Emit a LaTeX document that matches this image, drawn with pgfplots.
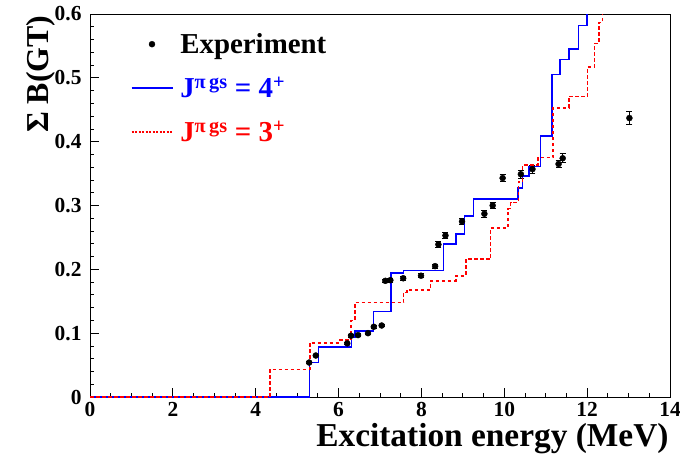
\documentclass[border=0pt]{standalone}
\usepackage{fontspec}
\setmainfont{Liberation Serif}
\usepackage{pgfplots}
\pgfplotsset{compat=1.18}
\begin{document}
\begin{tikzpicture}
\begin{axis}[
 scale only axis, width=580bp, height=383bp,
 xmin=0, xmax=14, ymin=0, ymax=0.6,
 xtick={0,2,4,6,8,10,12,14}, ytick={0,0.1,0.2,0.3,0.4,0.5,0.6},
 minor x tick num=3, minor y tick num=4,
 tick align=inside, xtick pos=bottom, ytick pos=left,
 major tick length=9bp, minor tick length=4.5bp,
 tick style={black, line width=0.8bp},
 axis line style={line width=1bp},
 ticklabel style={font=\fontsize{21.5}{24}\selectfont\bfseries},
 /pgf/number format/assume math mode=true,
 yticklabel style={/pgf/number format/fixed, xshift=-5bp},
 xticklabel style={yshift=-2bp},
 legend cell align=left,
 legend style={draw=none, fill=none, at={(axis description cs:0.07,0.955)}, anchor=north west,
   font=\fontsize{29}{31}\selectfont\bfseries, row sep=18bp, inner sep=0pt,
   /tikz/every even column/.style={column sep=0bp}},
]
\addplot[only marks, mark=*, mark size=3bp, black,
  legend image code/.code={\fill[black] (20.5bp,0bp) circle (3bp); \path (0bp,0bp) (41bp,0bp) (46bp,0bp);},
  error bars/.cd, y dir=both, y explicit, error bar style={line width=0.8bp},
  error mark options={rotate=90, mark size=3bp, line width=0.8bp}]
 table[x=x, y=y, y error=e] {
 x y e
 5.29 0.054 0.002
 5.45 0.065 0.002
 6.21 0.084 0.002
 6.30 0.096 0.002
 6.47 0.097 0.002
 6.71 0.100 0.002
 6.85 0.110 0.002
 7.04 0.112 0.002
 7.13 0.182 0.003
 7.25 0.183 0.003
 7.56 0.186 0.003
 7.99 0.190 0.003
 8.33 0.205 0.003
 8.41 0.239 0.005
 8.58 0.253 0.005
 8.98 0.275 0.005
 9.52 0.287 0.005
 9.72 0.300 0.005
 9.96 0.343 0.006
 10.40 0.349 0.006
 10.68 0.357 0.006
 11.31 0.365 0.006
 11.41 0.374 0.007
 13.02 0.437 0.010
 };
\addlegendentry{Experiment}
\addplot[const plot, color=blue, line width=1.6bp,
  legend image code/.code={\draw[blue, line width=1.4bp] (0bp,0bp) -- (41bp,0bp); \path (46bp,0bp);}]
 coordinates {
 (0,0) (5.30,0.054) (5.52,0.078) (6.31,0.094) (6.40,0.103) (6.84,0.134)
 (7.27,0.194) (7.57,0.198) (8.53,0.240) (8.83,0.255) (9.04,0.284) (9.26,0.310)
 (10.33,0.327) (10.44,0.346) (10.60,0.361) (10.87,0.409) (11.15,0.505)
 (11.34,0.529) (11.56,0.545) (11.79,0.582) (12.00,0.65) (12.3,0.65)
 };
\addlegendentry{\textcolor{blue}{J\textsuperscript{π\,gs} = 4\textsuperscript{+}}}
\addplot[const plot, color=red, line width=1.6bp, dash pattern=on 3.5bp off 2.5bp,
  legend image code/.code={\draw[red, line width=1.4bp, dash pattern=on 2bp off 1.5bp] (0bp,0bp) -- (41bp,0bp); \path (46bp,0bp);}]
 coordinates {
 (0,0) (4.34,0.043) (5.31,0.085) (6.02,0.089) (6.30,0.120) (6.39,0.148)
 (7.57,0.164) (7.65,0.168) (8.22,0.182) (8.83,0.190) (9.07,0.216) (9.67,0.265)
 (10.09,0.295) (10.15,0.305) (10.34,0.337) (10.44,0.363) (10.81,0.375)
 (11.18,0.453) (11.56,0.471) (12.01,0.517) (12.18,0.554) (12.28,0.587)
 (12.37,0.65) (12.6,0.65)
 };
\addlegendentry{\textcolor{red}{J\textsuperscript{π\,gs} = 3\textsuperscript{+}}}
\end{axis}
\node[anchor=base east, font=\fontsize{33.5}{35}\selectfont\bfseries] at (582bp,-49bp) {Excitation energy (MeV)};
\node[rotate=90, anchor=base east, font=\fontsize{32}{34}\selectfont\bfseries] at (-41bp,385bp) {Σ B(GT)};
\pgfresetboundingbox
\path[use as bounding box] (-90bp,-64bp) rectangle (590bp,397bp);
\end{tikzpicture}
\end{document}
